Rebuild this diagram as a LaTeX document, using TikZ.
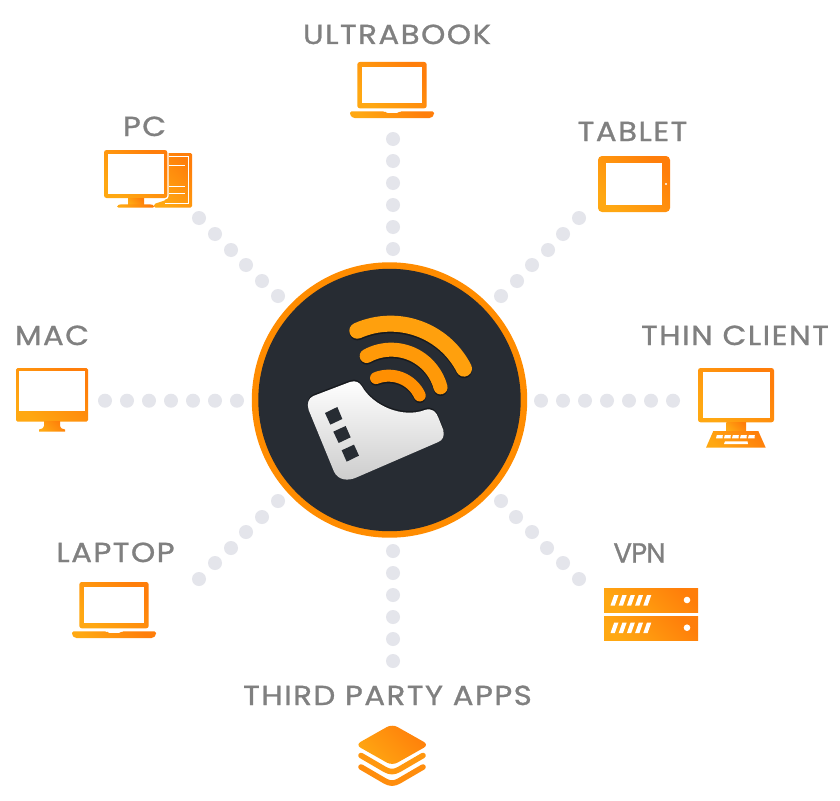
\documentclass[tikz,border=0pt]{standalone}
\usepackage{fontspec}
\newfontfamily\labfont[LetterSpace=5.5,FakeBold=1.0,FakeStretch=1.12]{Poppins}
\newfontfamily\labtight[LetterSpace=-3,FakeBold=1.0]{Poppins}
\definecolor{orL}{HTML}{FFA812}
\definecolor{orD}{HTML}{FF7E0A}
\definecolor{ringc}{HTML}{FF8C00}
\definecolor{darkc}{HTML}{272C33}
\definecolor{dotc}{HTML}{E4E5EB}
\definecolor{labc}{HTML}{808080}
\tikzset{
  ic/.style={left color=orL,right color=orD,shading angle=135},
  hole/.style={fill=white},
  dotp/.style={fill=dotc,draw=none},
  lab/.style={text=labc,anchor=base,inner sep=0pt,font=\labfont\fontsize{27.5}{30}\selectfont},
  labt/.style={text=labc,anchor=base,inner sep=0pt,font=\labtight\fontsize{27.5}{30}\selectfont},
  wave/.style={line cap=round},
}
\newcommand{\lapicon}[2]{%
  \begin{scope}[shift={(#1,#2)}]
    \path[ic,rounded corners=2.5pt] (357.3,108.3) -- (357.3,62) -- (426.7,62) -- (426.7,108.3) -- cycle;
    \path[hole] (362.3,67.3) rectangle (421.7,102.7);
    \path[ic,rounded corners=1.5pt] (350,111.3) -- (384.5,111.3) -- (386,113) -- (398.5,113) -- (400,111.3) -- (434,111.3) -- (434,115) -- (431,118) -- (353,118) -- (350,115) -- cycle;
  \end{scope}}
\begin{document}
\begin{tikzpicture}[x=1pt,y=-1pt]
\useasboundingbox (0,0) rectangle (840,800);
\fill[white] (0,0) rectangle (840,800);
% dots
\foreach \a/\b in {393/139,393/161,393/183,393/205,393/227,393/249,
  393/551,393/573,393/595,393/617,393/639,393/661,
  105/400.7,127/400.7,149/400.7,171/400.7,193/400.7,215/400.7,237/400.7,
  541/400.7,563/400.7,585/400.7,607/400.7,629/400.7,651/400.7,673/400.7,
  199/218,215/234,231/250,246/265,262/281,278/296,
  579/218,563/234,548/250,532/265,517/281,501/296,
  278/501,262/517,246/532,231/548,215/563,199/579,
  501/501,516/517,532/532,547/548,563/563,579/579}
  \fill[dotp] (\a,\b) circle[radius=7];
% centre disc
\fill[ringc] (389.5,400) circle[radius=137.7];
\fill[darkc] (389.5,400) circle[radius=131.2];
% logo
\begin{scope}[shift={(250,260)},x=0.3333pt,y=-0.3333pt]
  \foreach \dy/\colr/\opa in {5/black/0.4,0/orL!70!ringc/1}{
    \draw[wave,line width=16pt,color=\colr,opacity=\opa] (422,438+\dy) ++(-113.9:247) arc[start angle=-113.9,end angle=-27,radius=247];
  }
  \foreach \dy/\colr/\opa in {5/black/0.4,0/orL!45!ringc/1}{
    \draw[wave,line width=14pt,color=\colr,opacity=\opa] (424,422+\dy) ++(-118.9:153) arc[start angle=-118.9,end angle=-15.1,radius=153];
  }
  \foreach \dy/\colr/\opa in {5/black/0.4,0/ringc!90!orL/1}{
    \draw[wave,line width=12pt,color=\colr,opacity=\opa] (416,450+\dy) ++(-111.6:103) arc[start angle=-111.6,end angle=-25.1,radius=103];
  }
  \fill[black,opacity=0.4,shift={(0,-5)}] (190,408) -- (300,366) .. controls (318,360) and (328,368) .. (335,378)
     .. controls (370,440) and (460,475) .. (525,450) .. controls (545,443) and (560,455) .. (566,475)
     -- (580,510) .. controls (584,530) and (578,540) .. (565,546) -- (318,653)
     .. controls (295,663) and (265,662) .. (252,635) -- (176,450) .. controls (170,430) and (175,415) .. (190,408) -- cycle;
  \path[top color=white,bottom color=black!20] (190,408) -- (300,366) .. controls (318,360) and (328,368) .. (335,378)
     .. controls (370,440) and (460,475) .. (525,450) .. controls (545,443) and (560,455) .. (566,475)
     -- (580,510) .. controls (584,530) and (578,540) .. (565,546) -- (318,653)
     .. controls (295,663) and (265,662) .. (252,635) -- (176,450) .. controls (170,430) and (175,415) .. (190,408) -- cycle;
  \fill[darkc] (225,459) -- (262,441) -- (277,477) -- (241,494) -- cycle;
  \fill[darkc] (250,515) -- (287,498) -- (302,532) -- (266,549) -- cycle;
  \fill[darkc] (275,571) -- (312,554) -- (327,587) -- (290,605) -- cycle;
\end{scope}
% labels
\node[lab] (ultrabook) at (397,44) {ULTRABOOK};
\node[lab] (pc) at (144.5,136) {PC};
\node[lab] (tablet) at (632.5,141) {TABLET};
\node[lab] (mac) at (52,345) {MAC};
\node[lab] (thin) at (735,345) {THIN CLIENT};
\node[lab] (laptop) at (115.5,562) {LAPTOP};
\node[labt] (vpn) at (639.5,562.5) {VPN};
\node[lab] (third) at (387.5,705) {THIRD PARTY APPS};
% laptops
\lapicon{0}{0}
\lapicon{-278}{520}
% PC
\path[ic,rounded corners=1.5pt] (154,207.7) -- (154,204) -- (166,200) -- (166,153) -- (192,153) -- (192,207.7) -- cycle;
\draw[white,line width=1pt] (169,156.7) -- (188.3,156.7) -- (188.3,203.4) -- (165,203.4);
\draw[white,line width=1pt] (169,165.3) -- (184.7,165.3) (169,186.3) -- (184.7,186.3) (169,193.7) -- (184.7,193.7);
\path[fill=white,rounded corners=3pt] (103,149) rectangle (168.5,199.3);
\path[ic,rounded corners=2.5pt] (104,150) rectangle (167.3,198);
\path[hole] (107.7,154) rectangle (163.7,193.7);
\path[ic] (128,198) rectangle (144,204.5);
\path[ic,rounded corners=1.5pt] (117,207.7) -- (117,205.5) -- (120,204.3) -- (151,204.3) -- (154.3,205.5) -- (154.3,207.7) -- cycle;
% tablet
\path[ic,rounded corners=4pt] (598,156) rectangle (670,212);
\path[hole] (606,163) rectangle (662.3,205);
\fill[white] (666,184) circle[radius=1.2];
% thin client
\path[ic,rounded corners=2.5pt] (698,368) rectangle (774,422.3);
\path[hole] (703,372.3) rectangle (769.7,417.7);
\path[ic] (726.3,422) rectangle (746,431);
\path[ic] (713.3,431) -- (758.3,431) -- (765.7,447.7) -- (706,447.7) -- cycle;
\foreach \kx in {716,724,732,740,748}
  \fill[white] (\kx,438.3) -- (\kx+0.8,435) -- (\kx+6.8,435) -- (\kx+6.5,438.3) -- cycle;
\fill[white] (725,441.3) -- (747.5,441.3) -- (748,444) -- (724,444) -- cycle;
% mac
\path[ic,rounded corners=1.5pt] (16,368) rectangle (88,421.7);
\path[hole] (19.3,371.3) rectangle (84.7,411);
\path[ic] (44,421) -- (60,421) -- (60,426) .. controls (60,428) and (62,429) .. (65,429.5) -- (65,431.7) -- (39,431.7) -- (39,429.5) .. controls (42,429) and (44,428) .. (44,426) -- cycle;
% vpn
\path[ic] (604,588) rectangle (698,612);
\path[ic] (604,616) rectangle (698,640);
\foreach \vy in {595,622.5}{
  \foreach \vx in {610.5,618.7,626.9,635.1,643.3}
    \fill[white] (\vx,\vy+10.5) -- (\vx+3.7,\vy) -- (\vx+8,\vy) -- (\vx+4.3,\vy+10.5) -- cycle;
}
\fill[white] (687,600) circle[radius=3.3];
\fill[white] (687,627.7) circle[radius=3.3];
% stack
\path[ic,rounded corners=6pt] (392.2,724) -- (429,744.8) -- (392.2,765.6) -- (355.4,744.8) -- cycle;
\draw[line width=5.6pt,line cap=round,line join=round,color=orL!60!orD] (361,755.5) -- (385,769.5) .. controls (390,772.3) and (394,772.3) .. (399,769.5) -- (423,755.5);
\draw[line width=5.6pt,line cap=round,line join=round,color=orL!35!orD] (361,767) -- (385,781) .. controls (390,783.8) and (394,783.8) .. (399,781) -- (423,767);
\end{tikzpicture}
\end{document}
